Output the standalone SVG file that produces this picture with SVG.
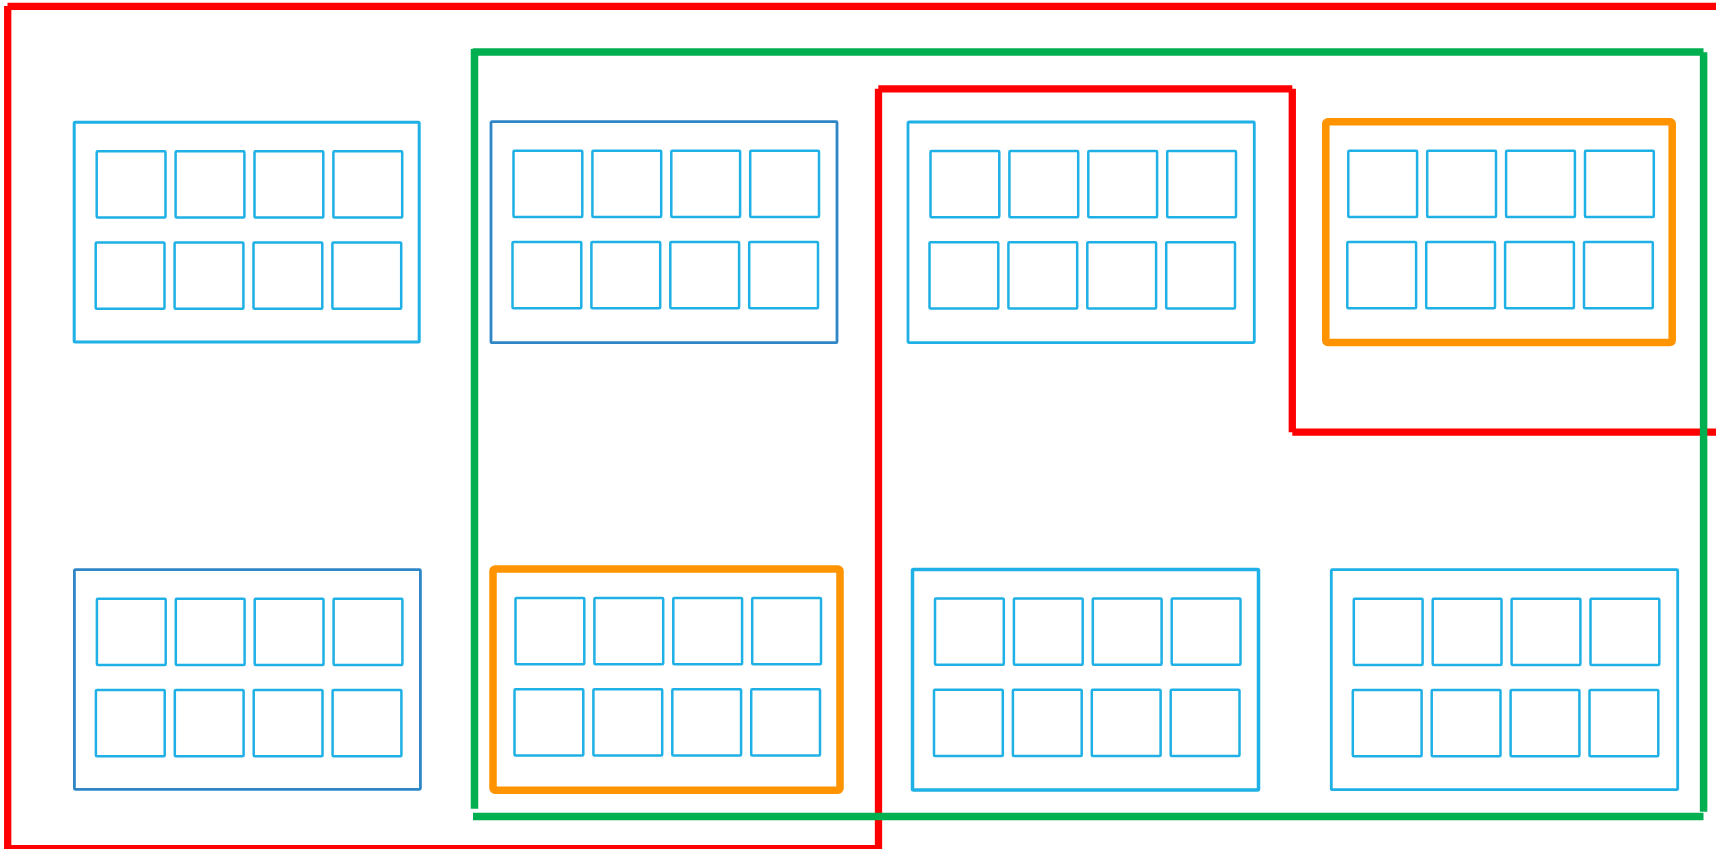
<svg xmlns="http://www.w3.org/2000/svg" width="1716" height="849" viewBox="0 0 1716 849">
<style>
.cell{fill:none;stroke:#1fb0e5;stroke-width:2.5}
.box{fill:none;stroke-width:2.8}
.cyan{stroke:#1fb0e5}
.dblue{stroke:#2e86c7}
.orange{fill:none;stroke:#ff9300;stroke-width:7.5}
.red{stroke:#ff0000;stroke-width:7.3;fill:none}
.green{stroke:#00b050;stroke-width:7.5;fill:none}
</style>
<defs>
<g id="cells">
<rect class="cell" x="22.5" y="29" width="68.8" height="66.2" rx="1"/>
<rect class="cell" x="101.4" y="29" width="68.8" height="66.2" rx="1"/>
<rect class="cell" x="180.3" y="29" width="68.8" height="66.2" rx="1"/>
<rect class="cell" x="259.2" y="29" width="68.8" height="66.2" rx="1"/>
<rect class="cell" x="21.5" y="120.3" width="68.8" height="66.2" rx="1"/>
<rect class="cell" x="100.4" y="120.3" width="68.8" height="66.2" rx="1"/>
<rect class="cell" x="179.3" y="120.3" width="68.8" height="66.2" rx="1"/>
<rect class="cell" x="258.2" y="120.3" width="68.8" height="66.2" rx="1"/>
</g>
</defs>
<rect x="0" y="0" width="1716" height="849" fill="#ffffff"/>
<g id="node1" transform="translate(74.2,122.2)">
<rect class="box cyan" x="0" y="0" width="345" height="219.8" rx="1" style="stroke-width:3"/>
<use href="#cells"/>
</g>
<g id="node2" transform="translate(491,121.7)">
<rect class="box dblue" x="0" y="0" width="346" height="221" rx="1"/>
<use href="#cells"/>
</g>
<g id="node3" transform="translate(908,122)">
<rect class="box cyan" x="0" y="0" width="346.3" height="220.6" rx="1"/>
<use href="#cells"/>
</g>
<g id="node4" transform="translate(1325.8,121.8)">
<rect class="orange" x="0" y="0" width="346.4" height="220.7" rx="2"/>
<use href="#cells"/>
</g>
<g id="node5" transform="translate(74.4,569.7)">
<rect class="box dblue" x="0" y="0" width="346" height="219.6" rx="1"/>
<use href="#cells"/>
</g>
<g id="node6" transform="translate(493,569)">
<rect class="orange" x="0" y="0" width="347" height="221.3" rx="2"/>
<use href="#cells"/>
</g>
<g id="node7" transform="translate(912.5,569.5)">
<rect class="box cyan" x="0" y="0" width="346" height="220.5" rx="1" style="stroke-width:3.5"/>
<use href="#cells"/>
</g>
<g id="node8" transform="translate(1331.3,569.7)">
<rect class="box cyan" x="0" y="0" width="346.4" height="220" rx="1"/>
<use href="#cells"/>
</g>
<g id="connectors">
<line class="red" x1="7.5" y1="6.3" x2="1716" y2="6.3"/>
<line class="red" x1="7.7" y1="6" x2="7.7" y2="849"/>
<line class="red" x1="7.7" y1="848.6" x2="878.5" y2="848.6"/>
<line class="red" x1="878.5" y1="88.8" x2="878.5" y2="849"/>
<line class="red" x1="878.3" y1="88.8" x2="1292.3" y2="88.8"/>
<line class="red" x1="1292.3" y1="88.8" x2="1292.3" y2="432.2"/>
<line class="red" x1="1292.3" y1="432.2" x2="1716" y2="432.2"/>
<line class="green" x1="472.7" y1="52" x2="1703.5" y2="52"/>
<line class="green" x1="474.5" y1="49" x2="474.5" y2="808.7"/>
<line class="green" x1="473" y1="816.5" x2="1703.5" y2="816.5"/>
<line class="green" x1="1703.6" y1="52.3" x2="1703.6" y2="811.7"/>
</g>
</svg>
